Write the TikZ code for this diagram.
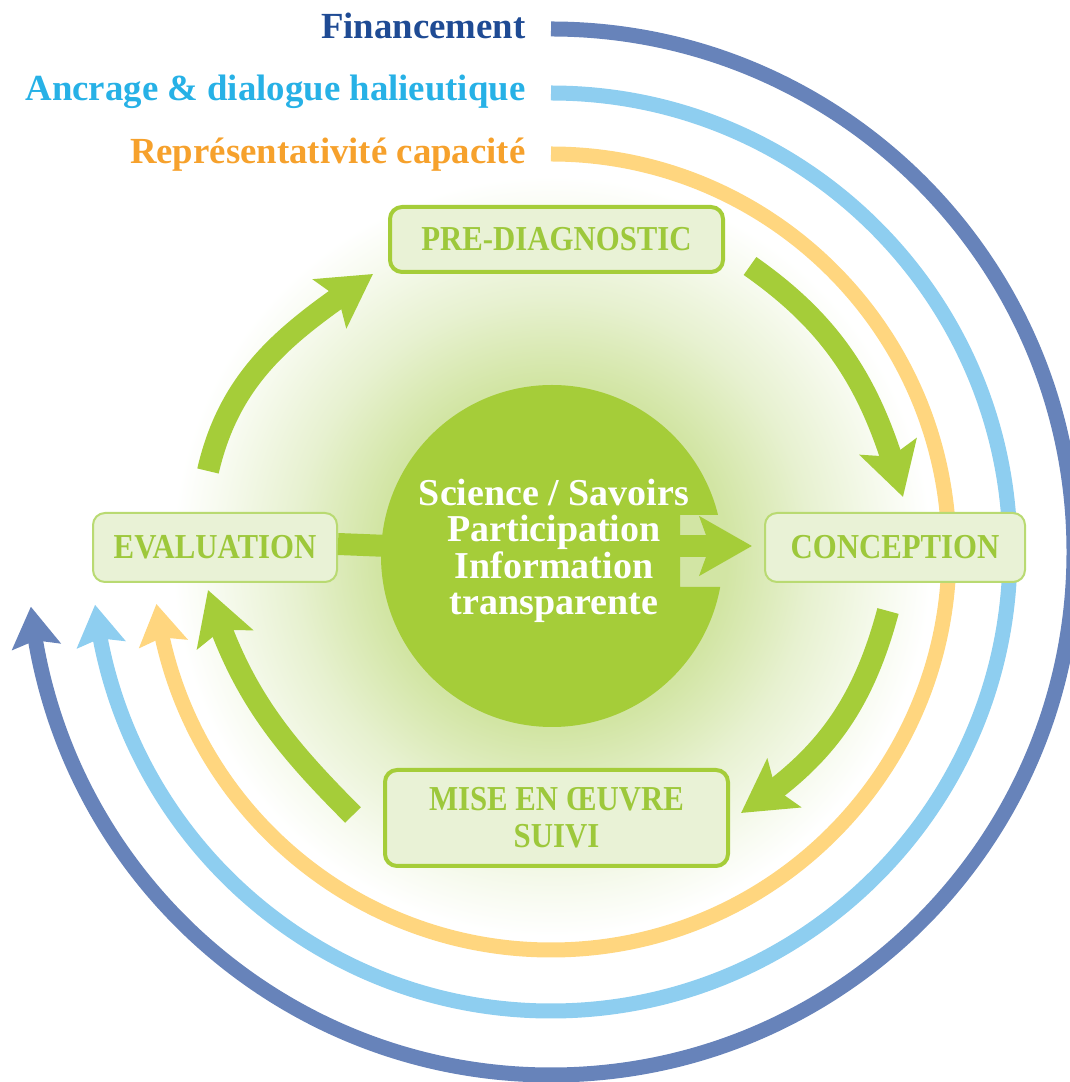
\documentclass[tikz,border=0pt]{standalone}
\usepackage{fontspec}
\setmainfont{Liberation Serif}
\usepackage{graphicx}
\usetikzlibrary{arrows.meta,bending}
\definecolor{gr}{HTML}{A5CD39}
\definecolor{grL}{HTML}{B9DA72}
\definecolor{boxfill}{HTML}{E9F2D6}
\definecolor{boxtext}{HTML}{9DC83B}
\definecolor{ringD}{HTML}{6783BA}
\definecolor{ringL}{HTML}{8ECEF0}
\definecolor{ringO}{HTML}{FFD67F}
\definecolor{txtD}{HTML}{1F4B94}
\definecolor{txtL}{HTML}{27B1E6}
\definecolor{txtO}{HTML}{F6A12C}
\definecolor{glowA}{HTML}{D2E5A4}
\definecolor{glowB}{HTML}{E7F1D0}
\definecolor{glowC}{HTML}{F8FBF1}
\pgfdeclareradialshading{glowshade}{\pgfpoint{0bp}{0bp}}{color(0bp)=(glowA); color(11.5bp)=(glowA); color(17bp)=(glowB); color(22.5bp)=(glowC); color(25bp)=(white); color(50bp)=(white)}
\newcommand{\bxt}[1]{\scalebox{0.88}[1]{#1}}
\begin{document}
\begin{tikzpicture}[x=1pt,y=1pt,
  cyc/.style={draw=gr, line width=22pt, -{Stealth[length=52pt,width=58pt,inset=10pt]}},
  ring/.style={line width=15pt, -{Stealth[length=40pt,width=48pt,inset=6pt]}},
  stage/.style={rectangle, rounded corners=12pt, fill=boxfill, text=boxtext,
    font=\bfseries\fontsize{35}{37}\selectfont, inner sep=0pt, align=center},
  lbl/.style={anchor=base east, font=\bfseries\fontsize{36.8}{40}\selectfont}
]
\useasboundingbox (0,0) rectangle (1070,1082);
\coordinate (O) at (551,530);
% background glow
\shade[shading=glowshade] (552,526) circle[radius=380];
% outer rings
\draw[ring, draw=ringD] ([shift={(0,523)}]O) arc[start angle=90, end angle=-174, radius=523];
\draw[ring, draw=ringL] ([shift={(0,459)}]O) arc[start angle=90, end angle=-173.4, radius=459];
\draw[ring, draw=ringO] ([shift={(0,398)}]O) arc[start angle=90, end angle=-172.5, radius=398];
% labels
\node[lbl, text=txtD] (fin) at (529,1043) {Financement};
\node[lbl, text=txtL] (anc) at (529,981) {Ancrage \& dialogue halieutique};
\node[lbl, text=txtO] (rep) at (529,918) {Représentativité capacité};
% cycle arrows
\coordinate (ulA) at (208,611); \coordinate (ulB) at (373,808);
\draw[cyc] (ulA) to[out=77,in=214] (ulB);
\coordinate (urA) at (750,816); \coordinate (urB) at (903,585);
\draw[cyc] (urA) to[out=-35,in=105] (urB);
\coordinate (lrA) at (888,471); \coordinate (lrB) at (741,269);
\draw[cyc] (lrA) to[out=-105,in=32.5] (lrB);
\coordinate (llA) at (353,267); \coordinate (llB) at (208,492);
\draw[cyc] (llA) to[out=135,in=287] (llB);
% stage boxes
\node[stage, draw=gr, line width=4pt, minimum width=333pt, minimum height=65pt] (pre) at (556.5,842.5) {\bxt{PRE-DIAGNOSTIC}};
\node[stage, draw=grL, line width=2pt, minimum width=244pt, minimum height=69pt] (eval) at (215,534.5) {\bxt{EVALUATION}};
\node[stage, draw=grL, line width=2pt, minimum width=260pt, minimum height=69pt] (conc) at (895,534.5) {\bxt{CONCEPTION}};
\node[stage, draw=gr, line width=4pt, minimum width=343pt, minimum height=96pt] (mise) at (556.5,264) {\bxt{MISE EN ŒUVRE}\\\bxt{SUIVI}};
% core circle
\node[circle, minimum size=342pt, inner sep=0pt] (core) at (552,526) {};
\draw[gr, line width=22pt] ([yshift=3.5pt]eval.east) -- ([yshift=3.5pt]core.center);
\begin{scope}
\clip (core.center) circle[radius=171];
\fill[gr, even odd rule] (352,326) rectangle (752,726) (680,567) rectangle (760,495);
\end{scope}
\coordinate (nt) at (680,536);
\draw[cyc, shorten >=12pt] (nt) -- (conc.west |- nt);
\node[text=white, font=\bfseries\fontsize{38}{36.5}\selectfont, align=center] (ctext) at (554,531) {Science / Savoirs\\Participation\\Information\\transparente};
\end{tikzpicture}
\end{document}
